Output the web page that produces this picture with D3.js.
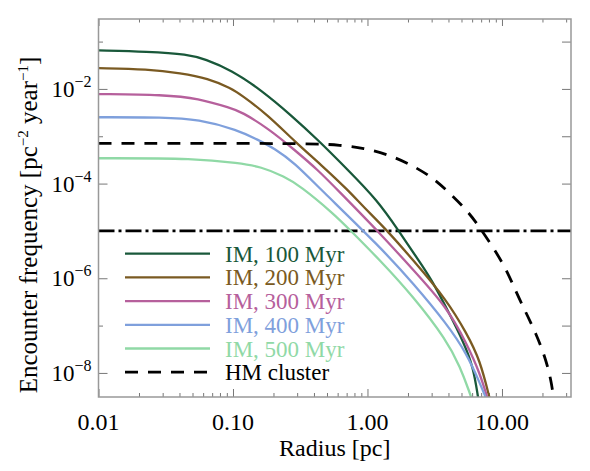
<!DOCTYPE html>
<html lang="en">
<head>
<meta charset="UTF-8">
<title>Encounter frequency</title>
<style>
    body { margin: 0; background: #fff; }
    .tick line { stroke: #777; stroke-width: 1; }
</style>
</head>
<body>
<div id="chart"></div>
<script src="https://d3js.org/d3.v7.min.js"></script>
<script>
// [radius (pc), encounter frequency (pc^-2 yr^-1)]
const im100 = [[0.010, 0.065], [0.0233, 0.0615], [0.0463, 0.054], [0.062, 0.0425], [0.0967, 0.0252],
    [0.162, 0.0095], [0.27, 2.8e-3], [0.428, 8.4e-4], [0.716, 1.94e-4], [1.18, 4.5e-5], [1.69, 1.05e-5],
    [2.37, 2.5e-6], [2.96, 1.0e-6], [4.10, 1.7e-7], [5.15, 4.6e-8], [6.12, 1.35e-8], [6.67, 2.8e-9]];
const im200 = [[0.010, 0.0274], [0.0233, 0.0261], [0.041, 0.0215], [0.065, 0.0168], [0.097, 0.0103],
    [0.115, 7.5e-3], [0.182, 2.8e-3], [0.288, 7.7e-4], [0.454, 2.47e-4], [0.716, 7.3e-5], [0.93, 3.25e-5],
    [1.39, 1.05e-5], [2.19, 2.4e-6], [3.88, 3.5e-7], [5.46, 6.9e-8], [6.86, 1.9e-8], [8.15, 2.7e-9]];
const im300 = [[0.010, 7.8e-3], [0.031, 7.5e-3], [0.055, 6.35e-3], [0.097, 3.9e-3], [0.115, 3.3e-3],
    [0.182, 1.48e-3], [0.288, 5.1e-4], [0.428, 1.94e-4], [0.60, 7.3e-5], [1.24, 8.9e-6], [2.19, 1.5e-6],
    [3.88, 2.5e-7], [5.46, 4.2e-8], [6.86, 9.8e-9], [7.87, 2.7e-9]];
const im400 = [[0.010, 2.52e-3], [0.031, 2.52e-3], [0.055, 2.29e-3], [0.109, 1.36e-3], [0.153, 8.4e-4],
    [0.204, 5.5e-4], [0.288, 2.7e-4], [0.428, 8.6e-5], [1.24, 4.6e-6], [2.19, 7.8e-7], [3.88, 1.1e-7],
    [5.46, 2.6e-8], [6.86, 6.0e-9], [7.7, 2.7e-9]];
const im500 = [[0.010, 3.43e-4], [0.055, 3.43e-4], [0.109, 2.69e-4], [0.162, 2.28e-4], [0.242, 1.4e-4],
    [0.315, 9.0e-5], [0.557, 2.35e-5], [0.741, 1.05e-5], [1.24, 2.4e-6], [2.19, 4.1e-7], [3.88, 4.9e-8],
    [4.88, 1.35e-8], [5.78, 3.7e-9], [5.98, 2.7e-9]];
const hmCluster = [[0.010, 7.1e-4], [0.395, 7.1e-4], [0.625, 6.5e-4], [0.942, 5.6e-4], [1.39, 4.2e-4],
    [2.01, 2.7e-4], [3.0, 1.4e-4], [3.99, 6.7e-5], [5.47, 2.77e-5], [6.78, 1.23e-5], [8.53, 4.6e-6],
    [10.7, 1.62e-6], [12.7, 5.2e-7], [15.1, 1.86e-7], [17.9, 6.8e-8], [20.9, 2.2e-8], [23.4, 6.5e-9],
    [24.6, 2.0e-9]];
const encounterLimit = 1e-5;

const seriesLabels = ["IM, 100 Myr", "IM, 200 Myr", "IM, 300 Myr", "IM, 400 Myr", "IM, 500 Myr", "HM cluster"];
const seriesColors = ["#19583a", "#7a5a22", "#b6609c", "#7fa0dc", "#90d9a6", "#000000"];

const xMajor = [0.01, 0.1, 1, 10];
const xMajorLabels = ["0.01", "0.10", "1.00", "10.00"];
const xMinor = [0.02, 0.03, 0.04, 0.05, 0.06, 0.07, 0.08, 0.09, 0.2, 0.3, 0.4, 0.5, 0.6, 0.7, 0.8, 0.9,
    2, 3, 4, 5, 6, 7, 8, 9, 20, 30];
const yMajorExp = [-2, -4, -6, -8];
const yMinorExp = [-1, -3, -5, -7];

const font = "Liberation Serif";

const margin = { top: 19, right: 19, bottom: 74, left: 98.5 },
      width = 590 - margin.left - margin.right,
      height = 471 - margin.top - margin.bottom;

const svg = d3.select("#chart")
    .append("svg")
    .attr("width", 590)
    .attr("height", 471)
    .append("g")
    .attr("transform", "translate(" + margin.left + "," + margin.top + ")");

const x = d3.scaleLog().domain([0.01, 32.6]).range([0, width]);
const y = d3.scaleLog().domain([3.1e-9, 0.3]).range([height, 0]);

svg.append("defs").append("clipPath").attr("id", "clip")
    .append("rect").attr("width", width).attr("height", height);

// ticks, all pointing inward
function ticks(axis, vals, size, transform) {
    const g = svg.append("g")
        .attr("transform", transform || null)
        .call(axis.tickValues(vals).tickSize(size).tickFormat(""));
    g.select(".domain").remove();
    return g;
}
ticks(d3.axisBottom(x), xMajor, -8, "translate(0," + height + ")");
ticks(d3.axisBottom(x), xMinor, -4, "translate(0," + height + ")");
ticks(d3.axisTop(x), xMajor, -7);
ticks(d3.axisTop(x), xMinor, -3.5);
ticks(d3.axisLeft(y), yMajorExp.map(e => Math.pow(10, e)), -9);
ticks(d3.axisLeft(y), yMinorExp.map(e => Math.pow(10, e)), -4.5);
ticks(d3.axisRight(y), yMajorExp.concat(yMinorExp).map(e => Math.pow(10, e)), -9, "translate(" + width + ",0)");

// x tick labels
svg.selectAll(".xlab")
    .data(xMajor)
    .enter().append("text")
    .attr("x", d => x(d))
    .attr("y", height + 33)
    .attr("text-anchor", "middle")
    .attr("font-family", font)
    .attr("font-size", 24)
    .text((d, i) => xMajorLabels[i]);

// y tick labels 10^n
const ylab = svg.selectAll(".ylab")
    .data(yMajorExp)
    .enter().append("text")
    .attr("x", -7)
    .attr("y", d => y(Math.pow(10, d)) + 8)
    .attr("text-anchor", "end")
    .attr("font-family", font)
    .attr("font-size", 23);
ylab.append("tspan").text("10");
ylab.append("tspan").attr("dy", -10).attr("font-size", 16).text(d => "\u2212" + Math.abs(d));

// axis titles
svg.append("text")
    .attr("x", width / 2)
    .attr("y", height + 59)
    .attr("text-anchor", "middle")
    .attr("font-family", font)
    .attr("font-size", 24)
    .text("Radius [pc]");

const yTitle = svg.append("text")
    .attr("transform", "translate(" + (37 - margin.left) + "," + (225 - margin.top) + ") rotate(-90)")
    .attr("text-anchor", "middle")
    .attr("font-family", font)
    .attr("font-size", 25);
yTitle.append("tspan").text("Encounter frequency [pc");
yTitle.append("tspan").attr("dy", -9).attr("font-size", 15).text("\u22122");
yTitle.append("tspan").attr("dy", 9).text(" year");
yTitle.append("tspan").attr("dy", -9).attr("font-size", 15).text("\u22121");
yTitle.append("tspan").attr("dy", 9).text("]");

// curves
const line = d3.line()
    .x(d => x(d[0]))
    .y(d => y(d[1]))
    .curve(d3.curveBasis);

const plot = svg.append("g").attr("clip-path", "url(#clip)");

plot.append("line")
    .attr("x1", 0).attr("x2", width)
    .attr("y1", y(encounterLimit)).attr("y2", y(encounterLimit))
    .style("stroke", "#000")
    .style("stroke-width", 2.8)
    .style("stroke-dasharray", "16,4,3,4");

[im100, im200, im300, im400, im500].forEach((s, i) => {
    plot.append("path")
        .attr("d", line(s))
        .style("fill", "none")
        .style("stroke", seriesColors[i])
        .style("stroke-width", 2.3);
});

plot.append("path")
    .attr("d", line(hmCluster))
    .style("fill", "none")
    .style("stroke", "#000")
    .style("stroke-width", 2.8)
    .style("stroke-dasharray", "13,10");

// frame
svg.append("rect")
    .attr("width", width)
    .attr("height", height)
    .style("fill", "none")
    .style("stroke", "#999")
    .style("stroke-width", 1.5);

// legend
const legend = svg.append("g").attr("transform", "translate(" + (125 - margin.left) + "," + (253.7 - margin.top) + ")");
seriesLabels.forEach((label, i) => {
    const row = legend.append("g").attr("transform", "translate(0," + (i * 23.7) + ")");
    row.append("line")
        .attr("x1", 0).attr("x2", 85)
        .style("stroke", seriesColors[i])
        .style("stroke-width", i === 5 ? 2.8 : 2.3)
        .style("stroke-dasharray", i === 5 ? "13,10" : null);
    row.append("text")
        .attr("x", 100)
        .attr("y", 8)
        .attr("font-family", font)
        .attr("font-size", 23)
        .style("fill", seriesColors[i])
        .text(label);
});
</script>
</body>
</html>
